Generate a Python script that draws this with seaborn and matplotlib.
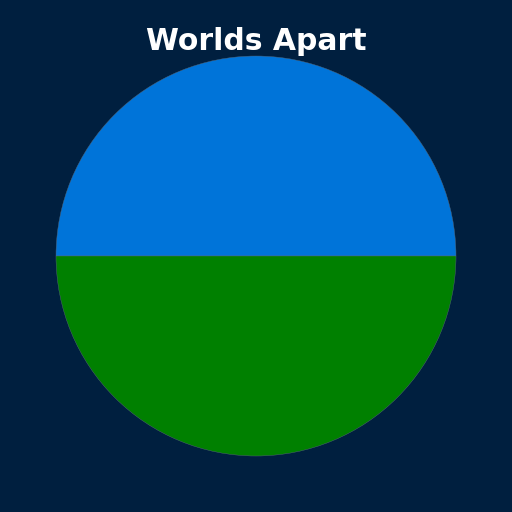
import matplotlib
matplotlib.use('Agg')
import seaborn as sns
from matplotlib import pyplot as plt

labels = ['World A', 'World B']
values = [50, 50]
colors = ['#0074D9', '#008000']

sns.set_theme(style='white')
plt.rcParams['font.family'] = ['DejaVu Sans']

bg = '#001F3F'
fig, ax = plt.subplots(figsize=(5.12, 5.12), dpi=100)
fig.patch.set_facecolor(bg)
ax.set_facecolor(bg)

ax.pie(values, colors=colors, startangle=0, counterclock=True,
       radius=1.0, wedgeprops={'linewidth': 0.3, 'edgecolor': '#556677'})
ax.set_aspect('equal')
ax.set_position([56/512, 56/512, 400/512, 400/512])
ax.set_xlim(-1, 1)
ax.set_ylim(-1, 1)
ax.axis('off')

fig.text(0.5, 1 - 41/512, 'Worlds Apart', color='white', fontsize=21.5,
         fontweight='bold', ha='center', va='center')

fig.savefig('out.png', dpi=100, facecolor=bg)
